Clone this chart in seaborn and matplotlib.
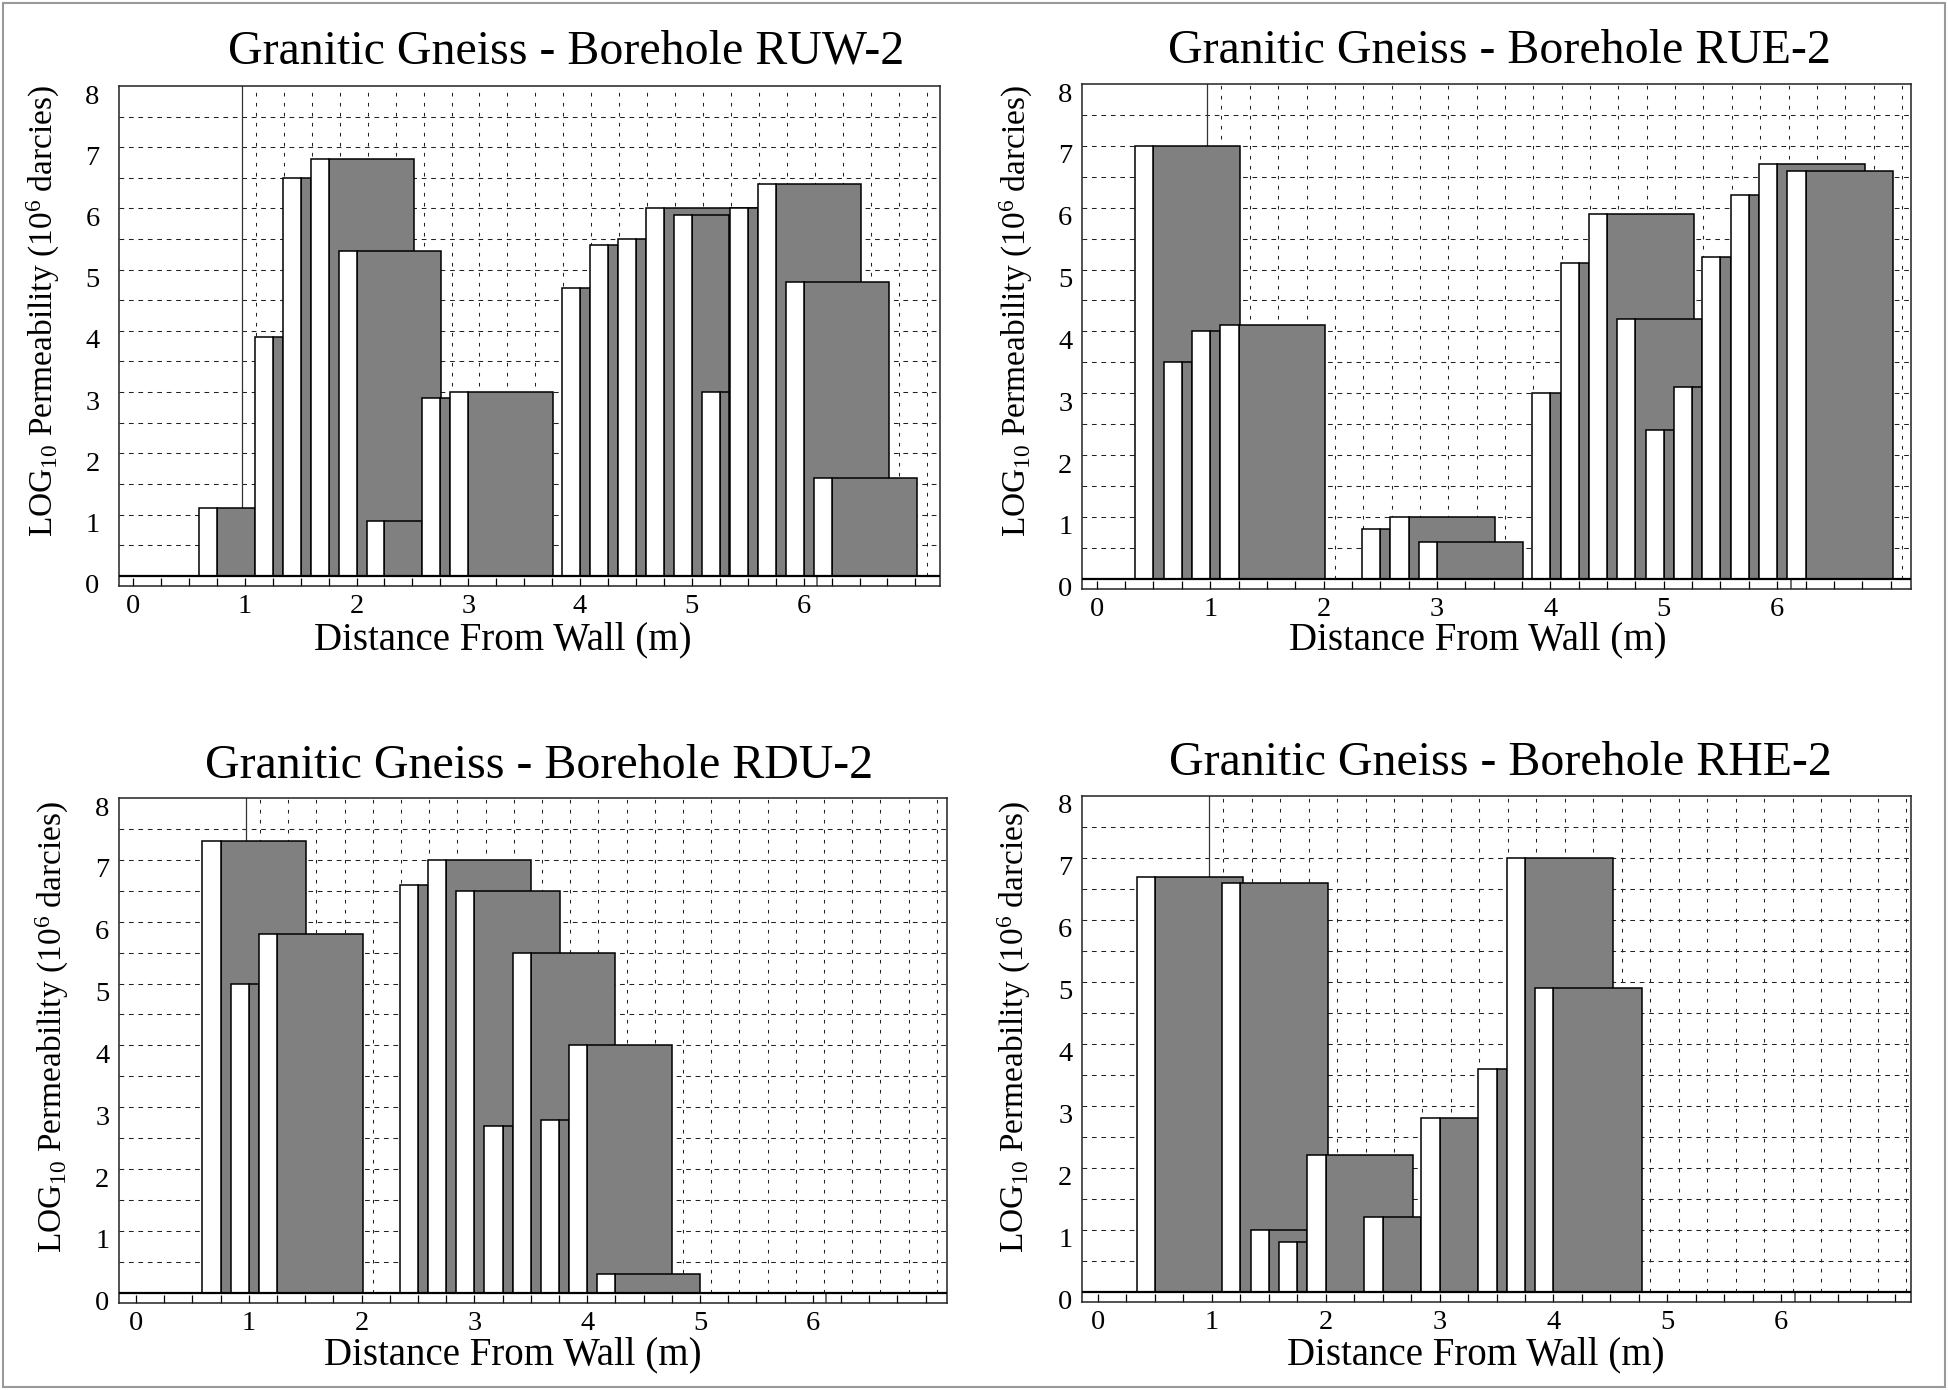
import numpy as np
import matplotlib
matplotlib.use("Agg")
import matplotlib.pyplot as plt
import matplotlib.transforms as mtransforms
from matplotlib.patches import Rectangle
import seaborn as sns

# ---------------- data ----------------
title_prefix = "Granitic Gneiss - Borehole "
borehole_names = ["RUW-2", "RUE-2", "RDU-2", "RHE-2"]

# interval start (m), log10 permeability, end of grey block (m)
ruw2_start = [0.59, 1.09, 1.34, 1.59, 1.84, 2.09, 2.59, 2.84, 3.84, 4.09,
              4.34, 4.59, 4.84, 5.09, 5.34, 5.59, 5.84, 6.09]
ruw2_value = [1.1, 3.9, 6.5, 6.8, 5.3, 0.9, 2.9, 3.0, 4.7, 5.4,
              5.5, 6.0, 5.9, 3.0, 6.0, 6.4, 4.8, 1.6]
ruw2_end = [1.09, 1.34, 1.59, 2.51, 2.76, 2.59, 2.84, 3.76, 4.09, 4.34,
            4.59, 5.58, 5.33, 5.33, 5.59, 6.51, 6.76, 7.01]

rue2_start = [0.34, 0.59, 0.84, 1.09, 2.34, 2.59, 2.84, 3.84, 4.09, 4.34,
              4.59, 4.84, 5.09, 5.34, 5.59, 5.84, 6.09]
rue2_value = [7.0, 3.5, 4.0, 4.1, 0.8, 1.0, 0.6, 3.0, 5.1, 5.9,
              4.2, 2.4, 3.1, 5.2, 6.2, 6.7, 6.6]
rue2_end = [1.26, 0.84, 1.09, 2.01, 2.59, 3.51, 3.76, 4.09, 4.34, 5.27,
            5.34, 5.09, 5.34, 5.59, 5.84, 6.77, 7.02]

rdu2_start = [0.59, 0.84, 1.09, 2.34, 2.59, 2.84, 3.09, 3.34, 3.59, 3.84, 4.09]
rdu2_value = [7.3, 5.0, 5.8, 6.6, 7.0, 6.5, 2.7, 5.5, 2.8, 4.0, 0.3]
rdu2_end = [1.51, 1.09, 2.01, 2.59, 3.50, 3.76, 3.34, 4.25, 3.84, 4.75, 5.0]

rhe2_start = [0.34, 1.09, 1.34, 1.59, 1.84, 2.34, 2.84, 3.34, 3.59, 3.84]
rhe2_value = [6.7, 6.6, 1.0, 0.8, 2.2, 1.2, 2.8, 3.6, 7.0, 4.9]
rhe2_end = [1.27, 2.02, 1.84, 1.84, 2.77, 2.84, 3.34, 3.59, 4.52, 4.78]

x_tick_labels = ["0", "1", "2", "3", "4", "5", "6"]
y_tick_labels = ["0", "1", "2", "3", "4", "5", "6", "7", "8"]
x_label = "Distance From Wall (m)"
y_label = r"LOG$_{10}$ Permeability (10$^{6}$ darcies)"

# ---------------- style ----------------
sns.set_theme(style="white")
plt.rcParams["font.family"] = ["Liberation Serif", "DejaVu Serif"]
plt.rcParams["mathtext.fontset"] = "custom"
plt.rcParams["mathtext.rm"] = "Liberation Serif"
plt.rcParams["mathtext.it"] = "Liberation Serif:italic"
plt.rcParams["mathtext.bf"] = "Liberation Serif:bold"
plt.rcParams["lines.scale_dashes"] = False
plt.rcParams["text.color"] = "black"
plt.rcParams["xtick.color"] = "black"
plt.rcParams["ytick.color"] = "black"

W, H = 1948, 1390
fig = plt.figure(figsize=(W / 100, H / 100), dpi=100)
fig.patch.set_facecolor("white")

panels = [
    dict(start=ruw2_start, value=ruw2_value, end=ruw2_end, name=borehole_names[0],
         box=(119, 86, 940, 586), xlim=(-0.125, 7.22),
         title_xy=(566, 63), xlabel_xy=(503, 649), ylabel_xy=(43, 311), ypad=14),
    dict(start=rue2_start, value=rue2_value, end=rue2_end, name=borehole_names[1],
         box=(1082, 84, 1911, 589), xlim=(-0.13, 7.18),
         title_xy=(1499, 63), xlabel_xy=(1478, 649), ylabel_xy=(1016, 311), ypad=7),
    dict(start=rdu2_start, value=rdu2_value, end=rdu2_end, name=borehole_names[2],
         box=(119, 798, 947, 1303), xlim=(-0.15, 7.19),
         title_xy=(539, 778), xlabel_xy=(513, 1364), ylabel_xy=(52, 1027), ypad=7),
    dict(start=rhe2_start, value=rhe2_value, end=rhe2_end, name=borehole_names[3],
         box=(1082, 796, 1911, 1302), xlim=(-0.14, 7.14),
         title_xy=(1500, 775), xlabel_xy=(1476, 1364), ylabel_xy=(1014, 1027), ypad=7),
]

GREY = "#808080"
white_w = 0.16
ylim = (-0.167, 8.0)

for p in panels:
    l, t, r, b = p["box"]
    ax = fig.add_axes([l / W, 1 - b / H, (r - l) / W, (b - t) / H])
    ax.set_xlim(*p["xlim"])
    ax.set_ylim(*ylim)
    ax.set_facecolor("white")

    # dashed grid
    for yv in np.arange(0.5, 8.0, 0.5):
        ax.axhline(yv, color="#222222", lw=0.75, dashes=(3.4, 3.4), zorder=1)
    for xv in np.arange(1.1, 7.15, 0.25):
        ax.plot([xv, xv], [0, 8], color="#222222", lw=0.75, dashes=(2.6, 4.6), zorder=1)
    ax.plot([0.975, 0.975], [0, 8], color="#333333", lw=0.9, zorder=1)
    ax.plot([6.12, 6.12], [ylim[0], 0], color="#555555", lw=1.2, zorder=1)

    # bars: white front strip + grey block, drawn in order (later on top)
    for i, (s, v, e) in enumerate(zip(p["start"], p["value"], p["end"])):
        z = 2 + i * 0.01
        ax.bar(s + white_w, v, width=e - (s + white_w), align="edge",
               color=GREY, edgecolor="black", linewidth=1.1, zorder=z)
        ax.bar(s, v, width=white_w, align="edge",
               color="white", edgecolor="black", linewidth=1.1, zorder=z + 0.005)

    ax.axhline(0, color="black", lw=1.6, zorder=10)

    # ticks
    ax.set_xticks(range(len(x_tick_labels)))
    ax.set_xticklabels(x_tick_labels)
    ax.set_xticks(np.arange(0, 7.01, 0.25), minor=True)
    ax.tick_params(axis="x", which="both", direction="in", length=6, width=0.9,
                   bottom=True, top=False, labelsize=20.5, pad=6)
    ax.set_yticks(range(len(y_tick_labels)))
    ax.set_yticklabels(y_tick_labels)
    ax.tick_params(axis="y", which="both", length=0, labelsize=20.5, pad=p["ypad"])
    off = mtransforms.ScaledTranslation(0, -0.175, fig.dpi_scale_trans)
    for lab in ax.get_yticklabels():
        lab.set_va("baseline")
        lab.set_transform(lab.get_transform() + off)

    for sp in ax.spines.values():
        sp.set_color("#222222")
        sp.set_linewidth(1.1)
        sp.set_visible(True)

    # texts
    tx, ty = p["title_xy"]
    fig.text(tx / W, 1 - ty / H, title_prefix + p["name"], ha="center", va="baseline",
             fontsize=34.5)
    lx, ly = p["xlabel_xy"]
    fig.text(lx / W, 1 - ly / H, x_label, ha="center", va="baseline", fontsize=28)
    yx, yy = p["ylabel_xy"]
    fig.text(yx / W, 1 - yy / H, y_label, ha="center", va="center", rotation=90,
             fontsize=24)

# figure frame
fig.patches.append(Rectangle((3 / W, 3 / H), (W - 6) / W, (H - 6) / H,
                             transform=fig.transFigure, fill=False,
                             edgecolor="#999999", linewidth=1.5))

fig.savefig("out.png", dpi=100, facecolor="white")
